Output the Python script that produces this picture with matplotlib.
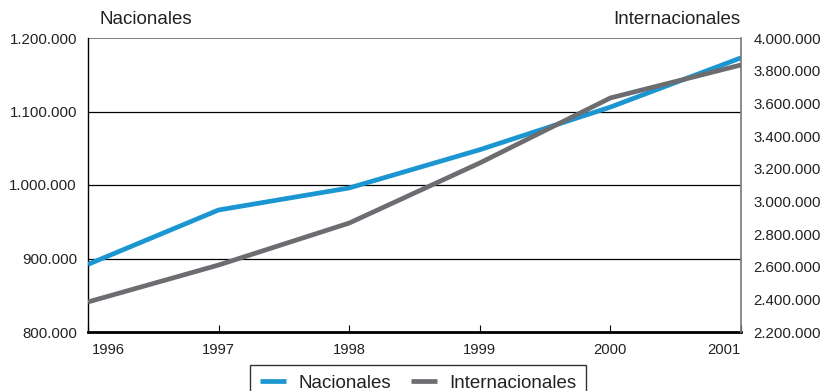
import matplotlib
matplotlib.use("Agg")
import matplotlib.pyplot as plt
from matplotlib.ticker import FuncFormatter
import matplotlib.transforms as mtransforms

years = [1996, 1997, 1998, 1999, 2000, 2001]
nacionales = [892000, 966000, 996000, 1048000, 1106000, 1173000]
internacionales = [2384000, 2610000, 2867000, 3235000, 3633000, 3835000]
left_ticks = [800000, 900000, 1000000, 1100000, 1200000]
right_ticks = [2200000, 2400000, 2600000, 2800000, 3000000, 3200000, 3400000, 3600000, 3800000, 4000000]

plt.rcParams['font.family'] = ['Liberation Sans', 'DejaVu Sans']

BLUE = '#1b96d1'
GRAY = '#6c6d70'
TXT = '#222222'

def fmt(v, pos=None):
    return f"{int(v):,}".replace(",", ".")

fig = plt.figure(figsize=(8.21, 3.91), dpi=100)
ax = fig.add_axes([88/821, 59/391, (741-88)/821, (332-38)/391])
ax2 = ax.twinx()

# gridlines
for t in left_ticks[1:-1]:
    ax.axhline(t, color='black', lw=0.9, zorder=1)
ax.axhline(left_ticks[-1], color='#666666', lw=1.2, zorder=1)

l1, = ax.plot(years, nacionales, color=BLUE, lw=3.4, solid_capstyle='butt', zorder=3, label='Nacionales')
l2, = ax2.plot(years, internacionales, color=GRAY, lw=3.4, solid_capstyle='butt', zorder=3, label='Internacionales')

ax.set_xlim(1996, 2001)
ax.set_ylim(800000, 1200000)
ax2.set_ylim(2200000, 4000000)

ax.set_yticks(left_ticks)
ax.yaxis.set_major_formatter(FuncFormatter(fmt))
ax2.set_yticks(right_ticks)
ax2.yaxis.set_major_formatter(FuncFormatter(fmt))

ax.set_xticks(years)
ax.set_xticklabels([str(y) for y in years])

ax.tick_params(axis='x', direction='in', length=5, width=0.8, pad=8, labelsize=10.6, colors='black')
ax.tick_params(axis='y', direction='out', length=0, pad=8, labelsize=10.8)
ax2.tick_params(axis='y', direction='out', length=0, pad=9, labelsize=10.8)
labs = ax.get_xticklabels()
labs[0].set_ha('left')
labs[0].set_transform(labs[0].get_transform() + mtransforms.ScaledTranslation(4/100, 0, fig.dpi_scale_trans))
labs[-1].set_ha('right')
for lab in ax.get_yticklabels() + ax2.get_yticklabels() + ax.get_xticklabels():
    lab.set_color(TXT)

for a in (ax, ax2):
    a.spines['top'].set_visible(False)
ax.spines['left'].set_linewidth(1.0)
ax.spines['bottom'].set_linewidth(2.0)
ax.spines['right'].set_visible(False)
ax2.spines['left'].set_visible(False)
ax2.spines['bottom'].set_visible(False)
ax2.spines['right'].set_color('#777777')
ax2.spines['right'].set_linewidth(1.2)

fig.text(99/821, 1 - 19/391, 'Nacionales', ha='left', va='center', fontsize=13.5, color=TXT)
fig.text(740/821, 1 - 19/391, 'Internacionales', ha='right', va='center', fontsize=13.5, color=TXT)

leg = fig.legend([l1, l2], ['Nacionales', 'Internacionales'], loc='upper center',
                 bbox_to_anchor=(418/821, 1 - 365/391), ncol=2, frameon=True, fancybox=False,
                 edgecolor='black', fontsize=13.5, handlelength=1.4, columnspacing=1.07,
                 borderpad=0.5, handletextpad=0.64, borderaxespad=0)
leg.get_frame().set_linewidth(1.0)
for t in leg.get_texts():
    t.set_color(TXT)

fig.savefig('out.png', dpi=100)
